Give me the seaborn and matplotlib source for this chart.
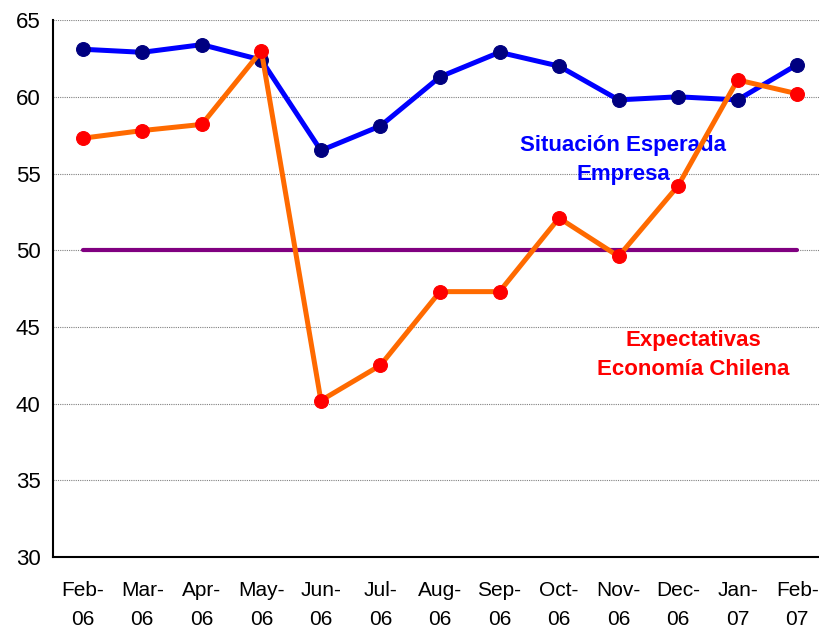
import seaborn as sns
import pandas as pd
import numpy as np
import matplotlib.pyplot as plt

sns.set_style('white')
plt.rcParams['font.family'] = ['Liberation Sans', 'DejaVu Sans']

# datos
meses = ['Feb-\n06', 'Mar-\n06', 'Apr-\n06', 'May-\n06', 'Jun-\n06', 'Jul-\n06', 'Aug-\n06',
         'Sep-\n06', 'Oct-\n06', 'Nov-\n06', 'Dec-\n06', 'Jan-\n07', 'Feb-\n07']
situacion_empresa = [63.1, 62.9, 63.4, 62.4, 56.5, 58.1, 61.3, 62.9, 62.0, 59.8, 60.0, 59.8, 62.1]
expectativas_chile = [57.3, 57.8, 58.2, 63.0, 40.2, 42.5, 47.3, 47.3, 52.1, 49.6, 54.2, 61.1, 60.2]
neutral = [50] * len(meses)

df = pd.DataFrame({'x': np.arange(len(meses)),
                   'empresa': situacion_empresa,
                   'chile': expectativas_chile,
                   'neutral': neutral})

fig = plt.figure(figsize=(8.19, 6.28), dpi=100)
ax = fig.add_axes([0.0647, 0.113, 0.945, 0.855])

# lineas de grilla
for v in [35, 40, 45, 50, 55, 60, 65]:
    ax.axhline(v, color='#808080', lw=0.8, ls=(0, (1, 1)), zorder=0)

sns.lineplot(data=df, x='x', y='neutral', color='#800080', lw=3, ax=ax, zorder=2)
sns.lineplot(data=df, x='x', y='empresa', color='#0000FF', lw=3.6, marker='o', ms=10,
             markerfacecolor='#000080', markeredgecolor='#000080', ax=ax, zorder=3)
sns.lineplot(data=df, x='x', y='chile', color='#FF6A00', lw=3.6, marker='o', ms=10,
             markerfacecolor='#FF0000', markeredgecolor='#FF0000', ax=ax, zorder=4)

ax.set_xlim(-0.5, len(meses) - 0.5)
ax.set_ylim(30, 65)
ax.set_yticks([30, 35, 40, 45, 50, 55, 60, 65])
ax.set_xticks(np.arange(len(meses)))
ax.set_xticklabels(meses, fontsize=15, linespacing=1.69)
ax.set_xticks(np.arange(len(meses) + 1) - 0.5, minor=True)
ax.tick_params(axis='x', which='major', length=0, pad=17, labelcolor='black')
ax.tick_params(axis='x', which='minor', length=5, width=1.5, direction='out')
ax.tick_params(axis='y', length=5, width=1.5, direction='out', labelsize=16, pad=4,
               labelcolor='black')
ax.set_xlabel('')
ax.set_ylabel('')

for s in ['top', 'right']:
    ax.spines[s].set_visible(False)
for s in ['left', 'bottom']:
    ax.spines[s].set_linewidth(1.5)
    ax.spines[s].set_color('black')

ax.text(9.08, 55.9, 'Situación Esperada\nEmpresa', color='#0000FF', fontsize=16,
        fontweight='bold', ha='center', va='center', linespacing=1.5)
ax.text(10.25, 43.2, 'Expectativas\nEconomía Chilena', color='#FF0000', fontsize=16,
        fontweight='bold', ha='center', va='center', linespacing=1.5)

fig.savefig('out.png', dpi=100)
